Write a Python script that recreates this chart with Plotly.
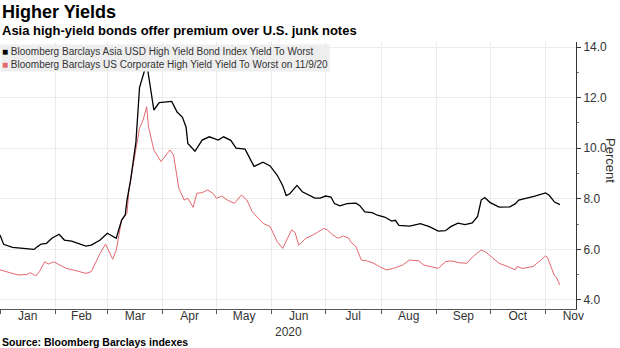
import plotly.graph_objects as go

# ---- data ----
asia_dates = ["2020-01-01","2020-01-03","2020-01-08","2020-01-14","2020-01-20","2020-01-22","2020-01-24",
    "2020-01-27","2020-01-30","2020-02-03","2020-02-06","2020-02-10","2020-02-14","2020-02-18","2020-02-21",
    "2020-02-26","2020-03-01","2020-03-04","2020-03-06","2020-03-09","2020-03-11","2020-03-12","2020-03-14",
    "2020-03-17","2020-03-19","2020-03-23","2020-03-25","2020-03-27","2020-03-30","2020-04-02","2020-04-06",
    "2020-04-09","2020-04-12","2020-04-14","2020-04-15","2020-04-19","2020-04-23","2020-04-27","2020-05-02",
    "2020-05-05","2020-05-09","2020-05-12","2020-05-17","2020-05-22","2020-05-27","2020-05-31","2020-06-04",
    "2020-06-07","2020-06-09","2020-06-11","2020-06-15","2020-06-18","2020-06-21","2020-06-25","2020-06-28",
    "2020-07-01","2020-07-04","2020-07-06","2020-07-09","2020-07-13","2020-07-18","2020-07-20","2020-07-23",
    "2020-07-27","2020-07-30","2020-08-03","2020-08-07","2020-08-09","2020-08-11","2020-08-17","2020-08-23",
    "2020-08-28","2020-09-02","2020-09-06","2020-09-09","2020-09-13","2020-09-17","2020-09-21","2020-09-24",
    "2020-09-26","2020-09-28","2020-10-01","2020-10-03","2020-10-06","2020-10-12","2020-10-15","2020-10-17",
    "2020-10-20","2020-10-26","2020-11-01","2020-11-03","2020-11-06","2020-11-09"]
asia_yield = [6.57,6.20,6.08,6.04,6.00,6.11,6.21,
    6.24,6.44,6.60,6.37,6.33,6.24,6.13,6.17,
    6.37,6.64,6.53,6.44,7.16,7.36,7.95,8.74,
    10.25,12.40,13.36,12.49,11.51,11.80,11.83,11.85,
    11.43,11.22,10.84,10.19,9.88,10.32,10.45,10.32,
    10.45,10.31,10.00,9.96,9.28,9.45,9.30,8.93,
    8.53,8.13,8.20,8.53,8.28,8.16,8.03,8.03,
    8.11,8.07,7.81,7.72,7.81,7.83,7.74,7.48,
    7.45,7.35,7.28,7.12,7.15,6.95,6.92,7.02,
    6.90,6.72,6.74,6.90,7.04,6.98,7.05,7.30,
    7.95,8.05,7.85,7.78,7.67,7.68,7.80,7.95,
    8.00,8.11,8.23,8.14,7.87,7.77]

us_dates = ["2020-01-01","2020-01-06","2020-01-11","2020-01-16","2020-01-18","2020-01-21","2020-01-23",
    "2020-01-26","2020-01-28","2020-01-31","2020-02-04","2020-02-07","2020-02-13","2020-02-18","2020-02-21",
    "2020-02-24","2020-02-26","2020-02-29","2020-03-04","2020-03-06","2020-03-09","2020-03-12","2020-03-13",
    "2020-03-15","2020-03-19","2020-03-21","2020-03-23","2020-03-24","2020-03-27","2020-03-31","2020-04-05",
    "2020-04-07","2020-04-09","2020-04-10","2020-04-13","2020-04-15","2020-04-18","2020-04-20","2020-04-23",
    "2020-04-26","2020-04-29","2020-05-01","2020-05-04","2020-05-07","2020-05-11","2020-05-15","2020-05-18",
    "2020-05-21","2020-05-27","2020-05-31","2020-06-04","2020-06-07","2020-06-12","2020-06-14","2020-06-16",
    "2020-06-20","2020-06-24","2020-06-27","2020-06-30","2020-07-02","2020-07-05","2020-07-08","2020-07-11",
    "2020-07-14","2020-07-15","2020-07-18","2020-07-21","2020-07-24","2020-07-28","2020-07-31","2020-08-04",
    "2020-08-08","2020-08-13","2020-08-17","2020-08-22","2020-08-25","2020-08-29","2020-09-02","2020-09-06",
    "2020-09-09","2020-09-14","2020-09-18","2020-09-21","2020-09-26","2020-09-29","2020-10-02","2020-10-06",
    "2020-10-11","2020-10-15","2020-10-16","2020-10-19","2020-10-25","2020-10-29","2020-11-01","2020-11-02",
    "2020-11-04","2020-11-06","2020-11-07","2020-11-09"]
us_yield = [5.19,5.08,4.99,5.01,5.08,4.95,5.12,
    5.51,5.42,5.51,5.38,5.25,5.15,5.05,5.12,
    5.58,5.85,6.21,5.61,5.98,7.16,7.43,8.28,
    9.14,10.79,11.11,11.64,10.85,9.93,9.47,9.93,
    9.73,8.87,8.41,7.95,8.02,7.66,8.22,8.24,
    8.35,8.22,8.02,8.11,7.95,7.82,8.15,7.95,
    7.49,7.03,6.90,6.30,6.04,6.77,6.66,6.17,
    6.44,6.57,6.70,6.83,6.77,6.57,6.44,6.53,
    6.44,6.30,6.11,5.58,5.55,5.45,5.32,5.19,
    5.25,5.38,5.58,5.55,5.38,5.32,5.25,5.51,
    5.55,5.47,5.45,5.69,5.98,5.87,5.69,5.45,
    5.32,5.19,5.32,5.25,5.32,5.58,5.74,5.69,
    5.32,4.95,4.90,4.59]

asia_name = "Bloomberg Barclays Asia USD High Yield Bond Index Yield To Worst"
us_name = "Bloomberg Barclays US Corporate High Yield Yield To Worst on 11/9/20"
title = "Higher Yields"
subtitle = "Asia high-yield bonds offer premium over U.S. junk notes"
source = "Source: Bloomberg Barclays indexes"

BLACK = "#000000"
RED = "#e4676e"
FONT = "Liberation Sans"

fig = go.Figure()
fig.add_trace(go.Scatter(x=us_dates, y=us_yield, mode="lines", name=us_name,
                         line=dict(color=RED, width=1), showlegend=False))
fig.add_trace(go.Scatter(x=asia_dates, y=asia_yield, mode="lines", name=asia_name,
                         line=dict(color=BLACK, width=1.3), showlegend=False))

fig.update_layout(
    width=620, height=348,
    margin=dict(l=0, r=44, t=42, b=39),
    paper_bgcolor="white", plot_bgcolor="white",
    font=dict(family=FONT, color="#333333", size=12),
    xaxis=dict(
        type="date", range=["2020-01-01", "2020-11-18"],
        dtick="M1", tick0="2020-01-01", ticklabelmode="period", tickformat="%b",
        ticks="outside", ticklen=4, tickcolor="#555555",
        ticklabelstandoff=-8,
        showgrid=True, gridcolor="#ebebeb", gridwidth=1,
        showline=True, linecolor="#555555", linewidth=1,
        tickfont=dict(size=12, color="#333333"),
    ),
    yaxis=dict(
        side="right", range=[3.644, 14.198], dtick=2, tick0=4, tickformat=".1f",
        ticks="outside", ticklen=4, tickcolor="#333333",
        showgrid=True, gridcolor="#ebebeb", gridwidth=1,
        showline=True, linecolor="#333333", linewidth=1,
        zeroline=False,
        tickfont=dict(size=12, color="#333333"),
        minor=dict(dtick=1, tick0=4, ticks="outside", ticklen=2, tickcolor="#777777", showgrid=False),
    ),
)

def py(px):
    return (309 - px) / 267

fig.add_annotation(text="<b>" + title + "</b>", xref="paper", yref="paper", x=0, y=py(12),
                   xanchor="left", yanchor="middle", showarrow=False,
                   font=dict(family=FONT, size=18, color="#000000", weight="bold"))
fig.add_annotation(text="<b>" + subtitle + "</b>", xref="paper", yref="paper", x=0, y=py(31),
                   xanchor="left", yanchor="middle", showarrow=False,
                   font=dict(family=FONT, size=13, color="#000000", weight="bold"))
fig.add_annotation(text="<b>" + source + "</b>", xref="paper", yref="paper", x=0, y=py(342),
                   xanchor="left", yanchor="middle", showarrow=False,
                   font=dict(family=FONT, size=10.5, color="#000000", weight="bold"))

# legend box
legend_text = ("<span style='color:%s'>■</span> %s<br><span style='color:%s'>■</span> %s"
               % (BLACK, asia_name, RED, us_name))
fig.add_annotation(text=legend_text, xref="paper", yref="paper", x=0, y=py(44),
                   xanchor="left", yanchor="top", align="left", showarrow=False,
                   bgcolor="#eeeeee", borderpad=1,
                   font=dict(family=FONT, size=10, color="#333333"))

# y-axis title
fig.add_annotation(text="Percent", xref="paper", yref="paper", x=1, xshift=35, y=py(160),
                   xanchor="center", yanchor="middle", textangle=90, showarrow=False,
                   font=dict(family=FONT, size=13, color="#333333"))
# year label
fig.add_annotation(text="2020", x="2020-06-10", xref="x", yref="paper", y=py(332),
                   xanchor="center", yanchor="middle", showarrow=False,
                   font=dict(family=FONT, size=12, color="#333333"))

fig.write_html("out.html")
